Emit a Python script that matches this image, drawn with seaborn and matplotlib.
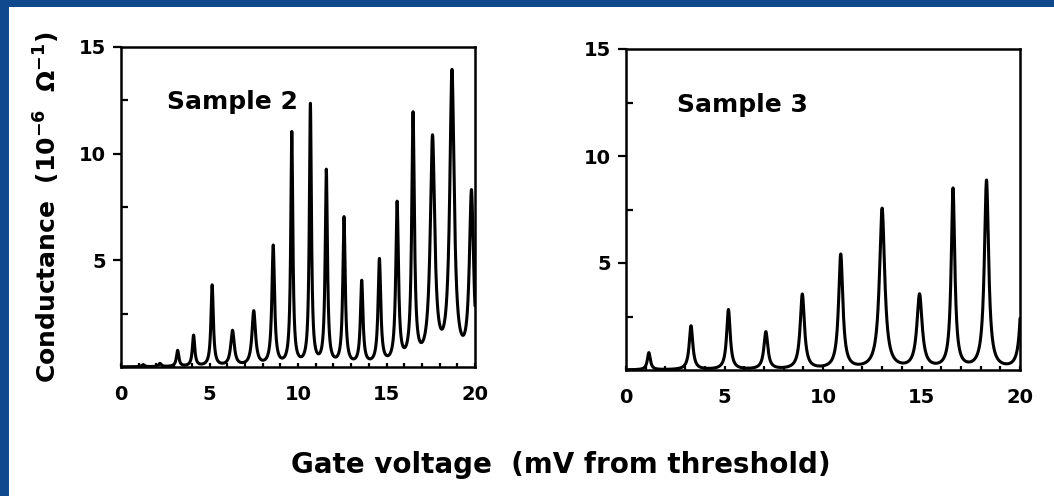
import numpy as np
import pandas as pd
import matplotlib
matplotlib.use("Agg")
import matplotlib.pyplot as plt
import seaborn as sns
from matplotlib.patches import Rectangle
from matplotlib.ticker import MultipleLocator

# peak positions (mV), heights (1e-6 1/ohm) and half widths
s2_pos = [1.25, 2.2, 3.2, 4.1, 5.15, 6.3, 7.5, 8.6, 9.65, 10.7, 11.6, 12.6,
          13.6, 14.6, 15.6, 16.5, 17.6, 18.7, 19.8]
s2_height = [0.1, 0.15, 0.75, 1.45, 3.8, 1.65, 2.55, 5.6, 10.9, 12.2, 9.1, 6.9,
             3.9, 4.9, 7.5, 11.6, 10.5, 13.6, 8.0]
s2_width = [0.09, 0.09, 0.08, 0.08, 0.08, 0.12, 0.12, 0.09, 0.07, 0.07, 0.075, 0.08,
            0.085, 0.09, 0.09, 0.09, 0.15, 0.15, 0.14]

s3_pos = [1.16, 3.3, 5.2, 7.1, 8.95, 10.9, 13.0, 14.9, 16.6, 18.3, 20.15]
s3_height = [0.8, 2.05, 2.8, 1.75, 3.5, 5.35, 7.5, 3.45, 8.4, 8.8, 6.0]
s3_width = [0.09, 0.11, 0.11, 0.12, 0.13, 0.13, 0.16, 0.16, 0.11, 0.13, 0.12]

x_ticks = [0, 5, 10, 15, 20]
y_ticks = [5, 10, 15]


def trace(pos, height, width):
    v = np.linspace(0, 20, 4001)
    g = np.zeros_like(v)
    for p, h, w in zip(pos, height, width):
        g += h / (1 + ((v - p) / w) ** 2)
    return pd.DataFrame({"v": v, "g": g})


sns.set_style("white")
plt.rcParams["font.family"] = ["DejaVu Sans"]
plt.rcParams["font.weight"] = "bold"
plt.rcParams["text.color"] = "black"
plt.rcParams["xtick.color"] = "black"
plt.rcParams["ytick.color"] = "black"

fig = plt.figure(figsize=(10.54, 4.96), dpi=100, facecolor="#11498f")
fig.patches.append(Rectangle((9 / 1054, 0), 1, 1 - 7 / 496, transform=fig.transFigure,
                             facecolor="white", edgecolor="none", zorder=-5))

ax1 = fig.add_axes([121 / 1054, 1 - 367 / 496, 354 / 1054, 320 / 496])
ax2 = fig.add_axes([626 / 1054, 1 - 370 / 496, 394 / 1054, 321 / 496])

panels = [(ax1, trace(s2_pos, s2_height, s2_width), "Sample 2"),
          (ax2, trace(s3_pos, s3_height, s3_width), "Sample 3")]

for ax, df, name in panels:
    sns.lineplot(data=df, x="v", y="g", ax=ax, color="black", lw=2.2, estimator=None)
    ax.set_xlim(0, 20)
    ax.set_ylim(0, 15)
    ax.set_xticks(x_ticks)
    ax.set_yticks(y_ticks)
    ax.xaxis.set_minor_locator(MultipleLocator(1))
    ax.yaxis.set_minor_locator(MultipleLocator(2.5))
    ax.tick_params(axis="y", which="major", direction="out", length=6, width=1.6,
                   labelsize=14, pad=5, left=True)
    ax.tick_params(axis="y", which="minor", direction="in", length=5, width=1.6, left=True)
    ax.tick_params(axis="x", which="both", direction="in", length=3, width=1.6,
                   labelsize=14, pad=13, bottom=True)
    for s in ax.spines.values():
        s.set_visible(True)
        s.set_linewidth(1.8)
        s.set_color("black")
    ax.set_xlabel("")
    ax.set_ylabel("")
    ax.set_facecolor("none")
    ax.text(2.6, 12.4, name, fontsize=18, va="center", ha="left")

fig.text(47 / 1054, 1 - 207 / 496, "Conductance  (10$^{-6}$  $\\mathbf{\\Omega}^{-1}$)",
         rotation=90, fontsize=18, ha="center", va="center")
fig.text(561 / 1054, 1 - 465 / 496, "Gate voltage  (mV from threshold)",
         fontsize=20, ha="center", va="center")

fig.savefig("out.png", dpi=100, facecolor=fig.get_facecolor())
